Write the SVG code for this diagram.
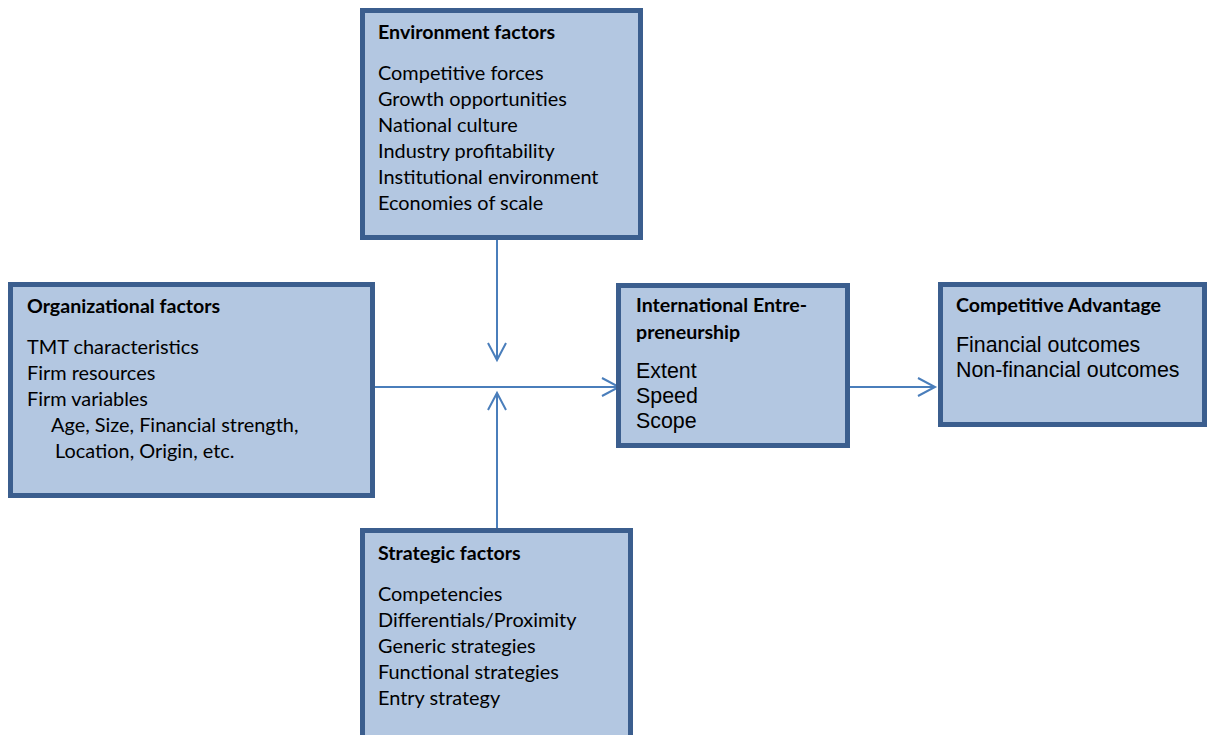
<svg xmlns="http://www.w3.org/2000/svg" width="1208" height="735" viewBox="0 0 1208 735">
<style>
.box{fill:#B3C7E1;stroke:#3B5E8E;stroke-width:5}
.t{font-family:Lato,"Liberation Sans",sans-serif;font-size:19.9px;fill:#000}
.b{font-weight:bold;font-size:19.6px}
.a{font-family:"Liberation Sans",Arial,sans-serif;font-size:21.4px;fill:#000}
.c{stroke:#4A7EBB;stroke-width:2;fill:none}
</style>
<rect width="1208" height="735" fill="#fff"/>
<g id="connectors" class="c">
<line x1="497" y1="237" x2="497" y2="359"/>
<polyline points="488,343 497,360 506,343"/>
<line x1="497" y1="530" x2="497" y2="394"/>
<polyline points="488,410 497,393 506,410"/>
<line x1="375" y1="387" x2="618" y2="387"/>
<polyline points="602,378 619,387 602,396"/>
<line x1="850" y1="387" x2="934" y2="387"/>
<polyline points="918,378 935,387 918,396"/>
</g>
<g id="environment">
<rect class="box" x="362.5" y="10.5" width="278" height="227"/>
<text class="t b" x="378" y="39">Environment factors</text>
<text class="t" x="378" y="80">Competitive forces</text>
<text class="t" x="378" y="106">Growth opportunities</text>
<text class="t" x="378" y="132">National culture</text>
<text class="t" x="378" y="158">Industry profitability</text>
<text class="t" x="378" y="184">Institutional environment</text>
<text class="t" x="378" y="210">Economies of scale</text>
</g>
<g id="organizational">
<rect class="box" x="10.5" y="284.5" width="362" height="211"/>
<text class="t b" x="27" y="313">Organizational factors</text>
<text class="t" x="27" y="354">TMT characteristics</text>
<text class="t" x="27" y="380">Firm resources</text>
<text class="t" x="27" y="406">Firm variables</text>
<text class="t" x="51" y="432">Age, Size, Financial strength,</text>
<text class="t" x="55" y="458">Location, Origin, etc.</text>
</g>
<g id="international">
<rect class="box" x="618.5" y="285.5" width="229" height="160"/>
<text class="t b" x="636" y="312">International Entre-</text>
<text class="t b" x="636" y="339">preneurship</text>
<text class="a" x="636" y="378">Extent</text>
<text class="a" x="636" y="403">Speed</text>
<text class="a" x="636" y="428">Scope</text>
</g>
<g id="competitive">
<rect class="box" x="940.5" y="284.5" width="264" height="140"/>
<text class="t b" x="956" y="312">Competitive Advantage</text>
<text class="a" x="956" y="352">Financial outcomes</text>
<text class="a" x="956" y="377">Non-financial outcomes</text>
</g>
<g id="strategic">
<rect class="box" x="362.5" y="530.5" width="268" height="220"/>
<text class="t b" x="378" y="560">Strategic factors</text>
<text class="t" x="378" y="601">Competencies</text>
<text class="t" x="378" y="627">Differentials/Proximity</text>
<text class="t" x="378" y="653">Generic strategies</text>
<text class="t" x="378" y="679">Functional strategies</text>
<text class="t" x="378" y="705">Entry strategy</text>
</g>
</svg>
